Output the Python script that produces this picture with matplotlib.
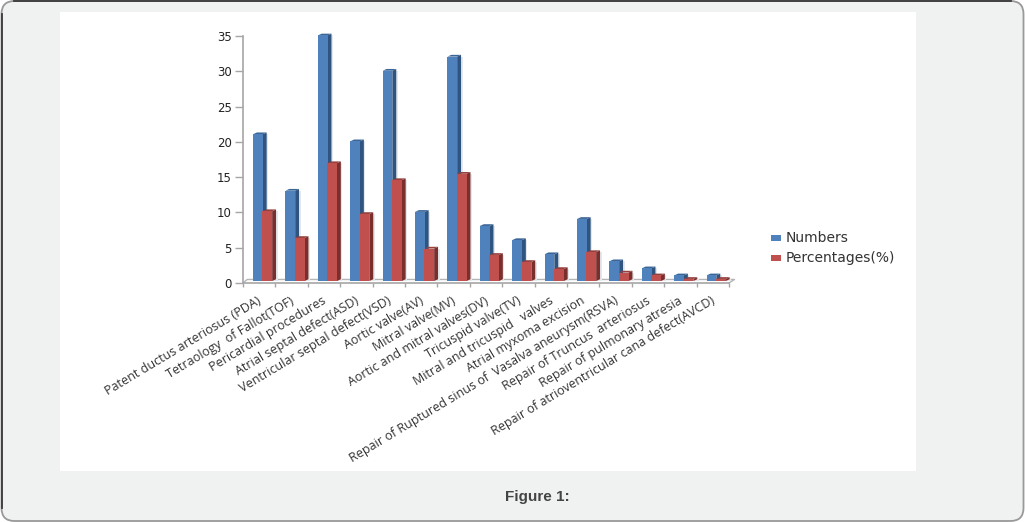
import matplotlib
matplotlib.use("Agg")
import matplotlib.pyplot as plt
from matplotlib.patches import FancyBboxPatch, Rectangle

categories = [
    "Patent ductus arteriosus (PDA)",
    "Tetraology  of Fallot(TOF)",
    "Pericardial procedures",
    "Atrial septal defect(ASD)",
    "Ventricular septal defect(VSD)",
    "Aortic valve(AV)",
    "Mitral valve(MV)",
    "Aortic and mitral valves(DV)",
    "Tricuspid valve(TV)",
    "Mitral and tricuspid   valves",
    "Atrial myxoma excision",
    "Repair of Ruptured sinus of  Vasalva aneurysm(RSVA)",
    "Repair of Truncus  arteriosus",
    "Repair of pulmonary atresia",
    "Repair of atrioventricular cana defect(AVCD)",
]
numbers = [21, 13, 35, 20, 30, 10, 32, 8, 6, 4, 9, 3, 2, 1, 1]
percentages = [10.1, 6.3, 16.9, 9.7, 14.5, 4.8, 15.4, 3.9, 2.9, 1.9, 4.3, 1.4, 1.0, 0.5, 0.5]
y_ticks = [0, 5, 10, 15, 20, 25, 30, 35]

W, H = 1025, 522
BAR_W = 0.30
DX = 0.12   # fake 3d depth, in category units
DY = 0.25   # fake 3d depth, in data units
FLOOR = 0.28
AXIS_GREY = "#a6a6a6"


def bar3d(ax, x, value, front, side, top):
    y0, y1 = FLOOR, value + 0.08
    # soft shadow on the right of the bar
    ax.bar(x + BAR_W, y1 - y0, bottom=y0, width=DX + 0.05, align="edge",
           color="#e3e8ef", linewidth=0, zorder=2, clip_on=False)
    ax.fill([x + BAR_W, x + BAR_W + DX, x + BAR_W + DX, x + BAR_W],
            [y0, y0 + DY, y1 + DY, y1], color=side, linewidth=0, zorder=3, clip_on=False)
    ax.fill([x, x + DX, x + BAR_W + DX, x + BAR_W],
            [y1, y1 + DY, y1 + DY, y1], color=top, linewidth=0, zorder=3, clip_on=False)
    ax.bar(x, y1 - y0, bottom=y0, width=BAR_W, align="edge",
           color=front, linewidth=0, zorder=4, clip_on=False)


fig = plt.figure(figsize=(W / 100, H / 100), dpi=100, facecolor="white")

# page card behind the chart, dark on top and left, lighter on the other sides
bg = fig.add_axes([0, 0, 1, 1])
bg.set_xlim(0, W)
bg.set_ylim(H, 0)
bg.axis("off")
bg.add_patch(FancyBboxPatch((1.5, 1), W - 3, H - 2, boxstyle="round,pad=0,rounding_size=13",
                            facecolor="#f0f2f1", edgecolor="#999999", linewidth=1.3))
bg.plot([14, W - 14], [1, 1], color="#3a3a3a", lw=1.3)
bg.plot([1.5, 1.5], [14, H - 14], color="#3a3a3a", lw=1.3)
bg.add_patch(Rectangle((60, 12), 856, 459, facecolor="white", edgecolor="none"))
bg.text(537, 497, "Figure 1:", family="Liberation Sans", fontweight="bold",
        fontsize=11, color="#444444", ha="center", va="center")

ax = fig.add_axes([243 / W, (H - 283) / H, 486 / W, 247 / H])
ax.patch.set_alpha(0)
ax.set_xlim(0, len(categories))
ax.set_ylim(0, 35)

for i in range(len(categories)):
    bar3d(ax, i + 0.31, numbers[i], "#4f81bd", "#2f5480", "#3b6696")
    bar3d(ax, i + 0.60, percentages[i], "#c0504d", "#7b2f2d", "#96403d")

# floor of the 3d box
n = len(categories)
ax.plot([0, 0.13, n + 0.17, n], [0, 0.5, 0.5, 0], color="#b5b5b5", lw=1, clip_on=False, zorder=1)

for s in ["top", "right"]:
    ax.spines[s].set_visible(False)
for s in ["left", "bottom"]:
    ax.spines[s].set_color(AXIS_GREY)
    ax.spines[s].set_linewidth(1.2)

ax.set_yticks(y_ticks)
ax.set_xticks(range(n + 1))
ax.set_xticklabels([])
ax.tick_params(axis="y", length=6, width=1, color=AXIS_GREY, labelsize=8.5,
               labelcolor="#222222", pad=2)
ax.tick_params(axis="x", length=3, width=1, color=AXIS_GREY)

for i, label in enumerate(categories):
    ax.annotate(label, xy=(i + 0.43, 0), xytext=(0, -8), textcoords="offset points",
                rotation=31, rotation_mode="anchor", ha="right", va="top",
                fontsize=9, color="#333333", family="Open Sans")

# legend
bg.add_patch(Rectangle((771, 235), 10, 6, facecolor="#4f81bd", edgecolor="none"))
bg.add_patch(Rectangle((771, 255), 10, 6, facecolor="#c0504d", edgecolor="none"))
bg.text(786, 238, "Numbers", fontsize=10, color="#333333", va="center")
bg.text(786, 258, "Percentages(%)", fontsize=10, color="#333333", va="center")

fig.savefig("out.png", dpi=100, facecolor="white")
